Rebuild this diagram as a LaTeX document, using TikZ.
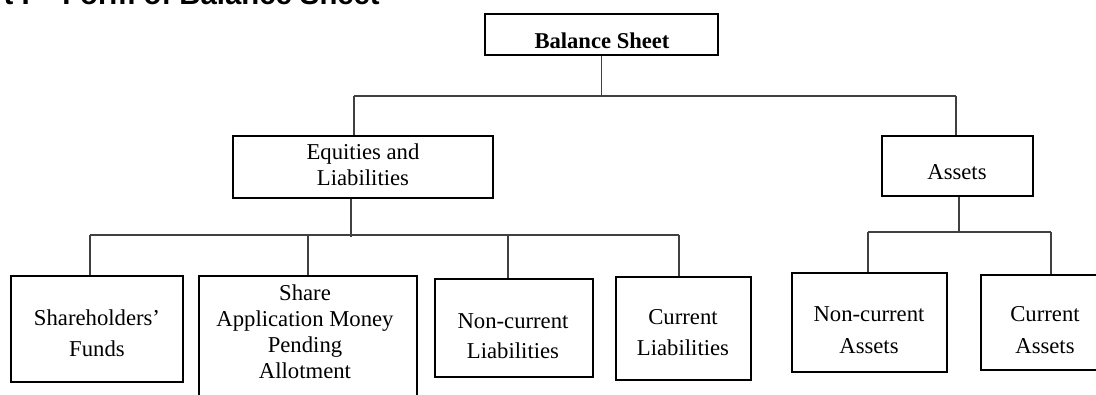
\documentclass[tikz,border=0pt]{standalone}
\usepackage{fontspec}
\setmainfont{Liberation Serif}
\newfontfamily\titlefont{Liberation Sans}
\begin{document}
\begin{tikzpicture}[x=1pt,y=-1pt,
  box/.style={draw=black, line width=1.8pt, rectangle, inner sep=0pt},
  txt/.style={align=center, font=\fontsize{22.7}{26}\selectfont, inner sep=0pt},
  conn/.style={draw=black!75, line width=1.3pt}]
\useasboundingbox (0,0) rectangle (1096,394);
% title (cut off at the top)
\node[anchor=base east, inner sep=0pt, font=\titlefont\bfseries\fontsize{29.3}{32}\selectfont] (title) at (380,4.5) {t I – Form of Balance Sheet};
% boxes
\node[box, minimum width=233pt, minimum height=41pt] (bs) at (601.5,34.5) {};
\node[txt, font=\bfseries\fontsize{22.6}{26}\selectfont] (bst) at (602,41) {Balance Sheet};
\node[box, minimum width=260pt, minimum height=62pt] (el) at (363,167) {};
\node[txt] (elt) at (363,165) {Equities and\\Liabilities};
\node[box, minimum width=151pt, minimum height=60pt] (as) at (957.5,166) {};
\node[txt] (ast) at (957,172) {Assets};
\node[box, minimum width=172pt, minimum height=106pt] (sf) at (97,329) {};
\node[txt] (sft) at (97,333) {Shareholders’\\[5pt]Funds};
\node[box, minimum width=218pt, minimum height=144pt] (sa) at (308,348) {};
\node[txt] (sat) at (305,332) {Share\\Application Money\\Pending\\Allotment};
\node[box, minimum width=158pt, minimum height=98pt] (nl) at (514,328) {};
\node[txt] (nlt) at (513,336) {Non-current\\[4pt]Liabilities};
\node[box, minimum width=135pt, minimum height=103pt] (cl) at (683.5,328.5) {};
\node[txt] (clt) at (683,333) {Current\\[5pt]Liabilities};
\node[box, minimum width=155pt, minimum height=99pt] (na) at (869.5,322.5) {};
\node[txt] (nat) at (869,330) {Non-current\\[6pt]Assets};
\node[box, minimum width=128pt, minimum height=95pt] (ca) at (1045,322.5) {};
\node[txt] (cat) at (1045,330) {Current\\[6pt]Assets};
% connectors
\coordinate (t1) at (354,96);
\coordinate (t2) at (956,96);
\draw[conn] (bs.south) -- (bs.south |- t1);
\draw[conn] (t1) -- (t2);
\draw[conn] (t1) -- (t1 |- el.north);
\draw[conn] (t2) -- (t2 |- as.north);
\coordinate (e1) at (351,237);
\draw[conn] (e1 |- el.south) -- (e1);
\coordinate (l1) at (90,235);
\coordinate (l2) at (679,235);
\coordinate (l3) at (508,235);
\draw[conn] (l1) -- (l2);
\draw[conn] (l1) -- (l1 |- sf.north);
\draw[conn] (sa.north |- l1) -- (sa.north);
\draw[conn] (l3) -- (l3 |- nl.north);
\draw[conn] (l2) -- (l2 |- cl.north);
\coordinate (a1) at (959,232);
\draw[conn] (a1 |- as.south) -- (a1);
\coordinate (r1) at (868,232);
\coordinate (r2) at (1051,232);
\draw[conn] (r1) -- (r2);
\draw[conn] (r1) -- (r1 |- na.north);
\draw[conn] (r2) -- (r2 |- ca.north);
\end{tikzpicture}
\end{document}
